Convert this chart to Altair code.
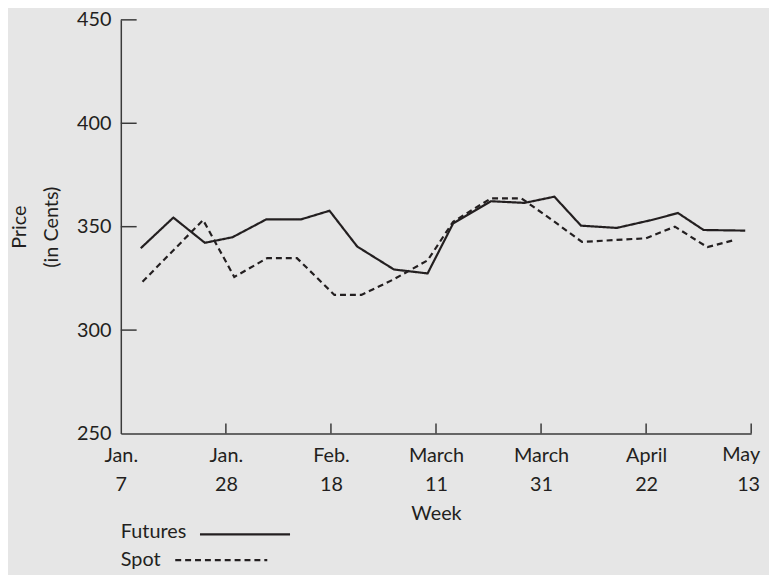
import json
import altair as alt
import pandas as pd

# ---- data (x = weeks after Jan. 7) ----
futures_week = [0.57, 1.50, 2.40, 3.19, 4.15, 5.14, 5.96, 6.75, 7.80, 8.76,
                9.49, 10.57, 11.53, 12.38, 13.14, 14.16, 15.15, 15.91, 16.64, 17.83]
futures_price = [339.6, 354.4, 342.2, 344.9, 353.5, 353.5, 357.7, 340.4, 329.3, 327.4,
                 351.6, 362.3, 361.5, 364.5, 350.5, 349.4, 353.2, 356.6, 348.4, 348.1]
spot_week = [0.62, 2.35, 3.24, 4.18, 5.03, 6.10, 6.87, 7.80, 8.76, 9.49,
             10.57, 11.44, 12.38, 13.17, 14.13, 15.00, 15.82, 16.75, 17.46]
spot_price = [323.4, 353.2, 325.7, 334.8, 334.8, 317.0, 317.0, 324.6, 333.7, 352.4,
              363.7, 363.7, 352.4, 342.6, 343.6, 344.4, 350.0, 340.1, 343.3]

tick_weeks = [0, 3, 6, 9, 12, 15, 18]
tick_month = ["Jan.", "Jan.", "Feb.", "March", "March", "April", "May"]
tick_day = ["7", "28", "18", "11", "31", "22", "13"]
y_ticks = [250, 300, 350, 400, 450]
series_names = ["Futures", "Spot"]

FONT = "Lato"
INK = "#231f20"
AXIS = "#3a3a3a"
BG = "#e6e6e6"

df = pd.concat([
    pd.DataFrame({"week": futures_week, "price": futures_price, "series": series_names[0]}),
    pd.DataFrame({"week": spot_week, "price": spot_price, "series": series_names[1]}),
])

# axis labels for all ticks but the last one (drawn separately so it stays on the page)
label_expr = (
    f"datum.value == {tick_weeks[-1]} ? '' : "
    f"[{json.dumps(tick_month)}[indexof({json.dumps(tick_weeks)}, datum.value)], "
    f"{json.dumps(tick_day)}[indexof({json.dumps(tick_weeks)}, datum.value)]]"
)

xscale = alt.Scale(domain=[0, 18], nice=False, zero=False)
yscale = alt.Scale(domain=[250, 450], nice=False, zero=False)

lines = alt.Chart(df).mark_line(strokeWidth=2.2, color=INK).encode(
    x=alt.X("week:Q", scale=xscale, axis=alt.Axis(
        values=tick_weeks, labelExpr=label_expr, title="Week",
        ticks=False, tickSize=0, labelPadding=12, labelLineHeight=30,
        labelFlush=False, labelOverlap=False,
        titleY=87, titleBaseline="alphabetic")),
    y=alt.Y("price:Q", scale=yscale, axis=alt.Axis(
        values=y_ticks, format="d", title=["Price", "(in Cents)"],
        ticks=False, tickSize=0, labelPadding=10, labelFlush=False,
        titleAngle=270, titleX=-102, titleY=209, titleAlign="center",
        titleBaseline="middle", titleLineHeight=32)),
    strokeDash=alt.StrokeDash("series:N", scale=alt.Scale(
        domain=series_names, range=[[1, 0], [6, 4]]), legend=None),
    detail="series:N",
)

# last x label (May 13), right-aligned just past its tick
last_df = pd.DataFrame({
    "week": [tick_weeks[-1], tick_weeks[-1]],
    "label": [tick_month[-1], tick_day[-1]],
    "line": [0, 1],
})
last_lab = alt.Chart(last_df).mark_text(
    align="right", baseline="top", font=FONT, fontSize=20, color=INK).encode(
    x=alt.X("week:Q", scale=xscale, axis=None),
    xOffset=alt.value(9),
    y=alt.value(430),
    yOffset=alt.YOffset("line:Q", scale=alt.Scale(domain=[0, 1], range=[0, 30]), legend=None)
    if False else alt.YOffset("line:Q", scale=alt.Scale(domain=[0, 1], range=[0, 30])),
    text="label:N")

# inward tick marks
xt = alt.Chart(pd.DataFrame({"week": tick_weeks[1:]})).mark_rule(
    color=AXIS, strokeWidth=1.5).encode(
    x=alt.X("week:Q", scale=xscale, axis=None),
    y=alt.value(418), y2=alt.value(408))
yt = alt.Chart(pd.DataFrame({"price": y_ticks[1:]})).mark_rule(
    color=AXIS, strokeWidth=1.5).encode(
    y=alt.Y("price:Q", scale=yscale, axis=None),
    x=alt.value(0), x2=alt.value(16))

# custom legend
leg_f_text = alt.Chart(pd.DataFrame({"label": [series_names[0]]})).mark_text(
    align="left", baseline="middle", font=FONT, fontSize=20, color=INK).encode(
    text="label:N", x=alt.value(0), y=alt.value(518))
leg_f_line = alt.Chart(pd.DataFrame({"label": [series_names[0]]})).mark_rule(
    color=INK, strokeWidth=2.2).encode(
    x=alt.value(80), x2=alt.value(171), y=alt.value(520))
leg_s_text = alt.Chart(pd.DataFrame({"label": [series_names[1]]})).mark_text(
    align="left", baseline="middle", font=FONT, fontSize=20, color=INK).encode(
    text="label:N", x=alt.value(0), y=alt.value(546))
leg_s_line = alt.Chart(pd.DataFrame({"label": [series_names[1]]})).mark_rule(
    color=INK, strokeWidth=2.2, strokeDash=[6, 4]).encode(
    x=alt.value(55), x2=alt.value(148), y=alt.value(546))

chart = alt.layer(lines, last_lab, xt, yt, leg_f_text, leg_f_line, leg_s_text, leg_s_line).resolve_axis(
    x="independent", y="independent"
).resolve_scale(yOffset="independent").properties(
    width=637, height=418,
    background=BG,
    autosize=alt.AutoSizeParams(type="none"),
    padding={"left": 114, "top": 9, "right": 18, "bottom": 140},
).configure_view(stroke=None).configure_axis(
    grid=False, domainColor=AXIS, domainWidth=1.5,
    labelFont=FONT, labelFontSize=20, labelColor=INK,
    titleFont=FONT, titleFontSize=20, titleColor=INK, titleFontWeight="normal",
)

chart.save("out.html", embed_options={"renderer": "svg", "actions": False})
